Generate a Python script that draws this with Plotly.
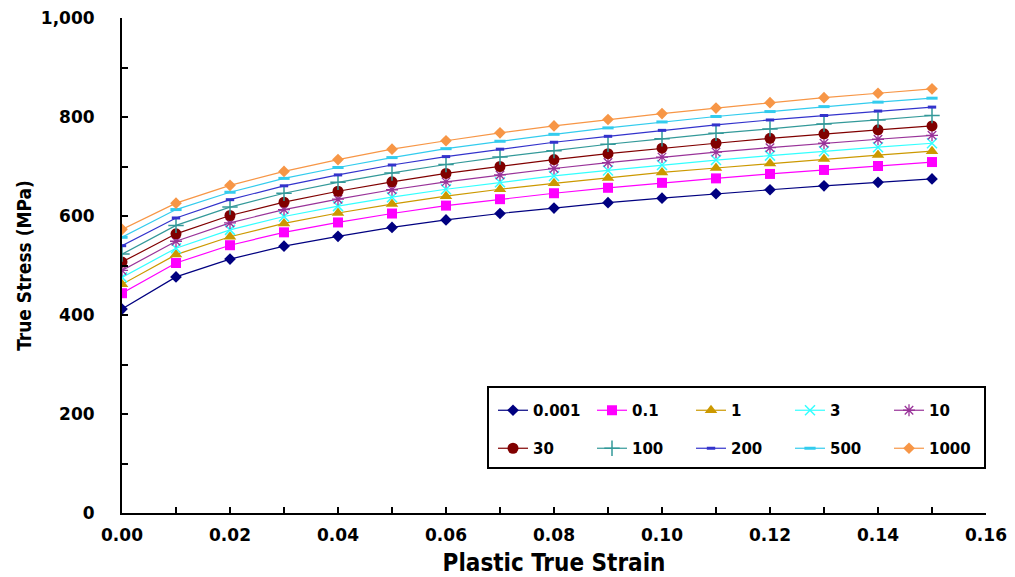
import plotly.graph_objects as go

strain = [0.00, 0.01, 0.02, 0.03, 0.04, 0.05, 0.06, 0.07, 0.08, 0.09, 0.10, 0.11, 0.12, 0.13, 0.14, 0.15]

s_0001 = [412, 477, 513, 539, 559, 577, 592, 605, 616, 627, 636, 645, 653, 661, 668, 675]
s_01 = [444, 505, 541, 567, 587, 605, 621, 634, 646, 657, 667, 676, 685, 693, 701, 709]
s_1 = [462, 522, 558, 585, 606, 624, 640, 654, 666, 677, 688, 697, 706, 715, 723, 731]
s_3 = [476, 535, 572, 599, 620, 638, 654, 668, 681, 692, 703, 713, 722, 731, 739, 747]
s_10 = [490, 549, 586, 613, 634, 653, 669, 683, 696, 708, 719, 729, 738, 747, 755, 763]
s_30 = [507, 564, 601, 628, 650, 669, 686, 700, 714, 726, 737, 747, 757, 766, 774, 782]
s_100 = [523, 581, 618, 646, 668, 687, 704, 719, 732, 745, 756, 767, 776, 786, 794, 803]
s_200 = [540, 596, 633, 661, 683, 703, 720, 735, 749, 761, 773, 784, 794, 803, 812, 820]
s_500 = [557, 613, 648, 676, 698, 718, 736, 751, 765, 778, 790, 801, 811, 821, 830, 838]
s_1000 = [573, 626, 662, 690, 714, 735, 752, 768, 782, 795, 807, 818, 829, 839, 848, 857]

names = ["0.001", "0.1", "1", "3", "10", "30", "100", "200", "500", "1000"]
values = [s_0001, s_01, s_1, s_3, s_10, s_30, s_100, s_200, s_500, s_1000]

styles = [
    dict(color="#000080", symbol="diamond", size=9, lw=0),
    dict(color="#FF00FF", symbol="square", size=10, lw=0),
    dict(color="#CC9900", symbol="triangle-up", size=11, lw=0),
    dict(color="#33FFFF", symbol="x-thin-open", size=10, lw=1.5),
    dict(color="#993399", symbol="asterisk-open", size=10, lw=1.3),
    dict(color="#800000", symbol="circle", size=11, lw=0),
    dict(color="#339999", symbol="cross-thin-open", size=11, lw=1.5),
    dict(color="#3333CC", symbol="line-ew-open", size=6, lw=3),
    dict(color="#33CCEE", symbol="line-ew-open", size=8, lw=3),
    dict(color="#F79646", symbol="diamond", size=9, lw=0),
]

# plot area in pixels
L, R, T, B = 122, 986, 18, 513
PW, PH = R - L, B - T


def px(xp):
    return (xp - L) / PW


def py(yp):
    return (B - yp) / PH


fig = go.Figure()
for i, (nm, ys, st) in enumerate(zip(names, values, styles)):
    fig.add_trace(go.Scatter(
        x=strain, y=ys, name=nm, mode="lines+markers",
        line=dict(color=st["color"], width=1.2),
        marker=dict(symbol=st["symbol"], size=st["size"], color=st["color"],
                    line=dict(color=st["color"], width=st["lw"])),
        legend="legend" if i < 5 else "legend2",
    ))

tickfont = dict(family="DejaVu Sans", size=17, color="black", weight="bold")
xtitlefont = dict(family="DejaVu Sans Condensed", size=24, color="black", weight="bold")
ytitlefont = dict(family="DejaVu Sans Condensed", size=19, color="black", weight="bold")
legfont = dict(family="DejaVu Sans", size=15, color="black", weight="bold")

legcommon = dict(orientation="h", xref="paper", yref="paper",
                 xanchor="left", yanchor="top",
                 entrywidth=54, entrywidthmode="pixels", font=legfont,
                 bgcolor="rgba(0,0,0,0)", borderwidth=0)

fig.update_layout(
    width=1015, height=577,
    margin=dict(l=L, r=1015 - R, t=T, b=577 - B),
    paper_bgcolor="white", plot_bgcolor="white",
    showlegend=True,
    legend=dict(x=px(493), y=py(394), **legcommon),
    legend2=dict(x=px(493), y=py(432), **legcommon),
    shapes=[dict(type="rect", xref="paper", yref="paper",
                 x0=px(488), x1=px(985), y0=py(468), y1=py(387),
                 line=dict(color="black", width=2))],
)

fig.update_xaxes(
    range=[0, 0.16], dtick=0.02, tick0=0, tickformat=".2f",
    automargin=False,
    showgrid=False, zeroline=False,
    showline=True, linecolor="black", linewidth=2,
    ticks="inside", ticklen=6, tickwidth=2, tickcolor="black",
    minor=dict(dtick=0.01, ticks="inside", ticklen=6, tickwidth=2, tickcolor="black", showgrid=False),
    tickfont=tickfont, ticklabelstandoff=6,
    title=dict(text="Plastic True Strain", font=xtitlefont, standoff=12),
)
fig.update_yaxes(
    range=[0, 1000], dtick=200, tick0=0, tickformat=",d",
    automargin=False,
    showgrid=False, zeroline=False,
    showline=True, linecolor="black", linewidth=2,
    ticks="inside", ticklen=6, tickwidth=2, tickcolor="black",
    minor=dict(dtick=100, ticks="inside", ticklen=6, tickwidth=2, tickcolor="black", showgrid=False),
    tickfont=tickfont, ticklabelstandoff=22,
    title=dict(text="True Stress (MPa)", font=ytitlefont, standoff=4),
)

fig.write_html("out.html", config={"displayModeBar": False},
               post_script="document.body.style.margin='0';")
